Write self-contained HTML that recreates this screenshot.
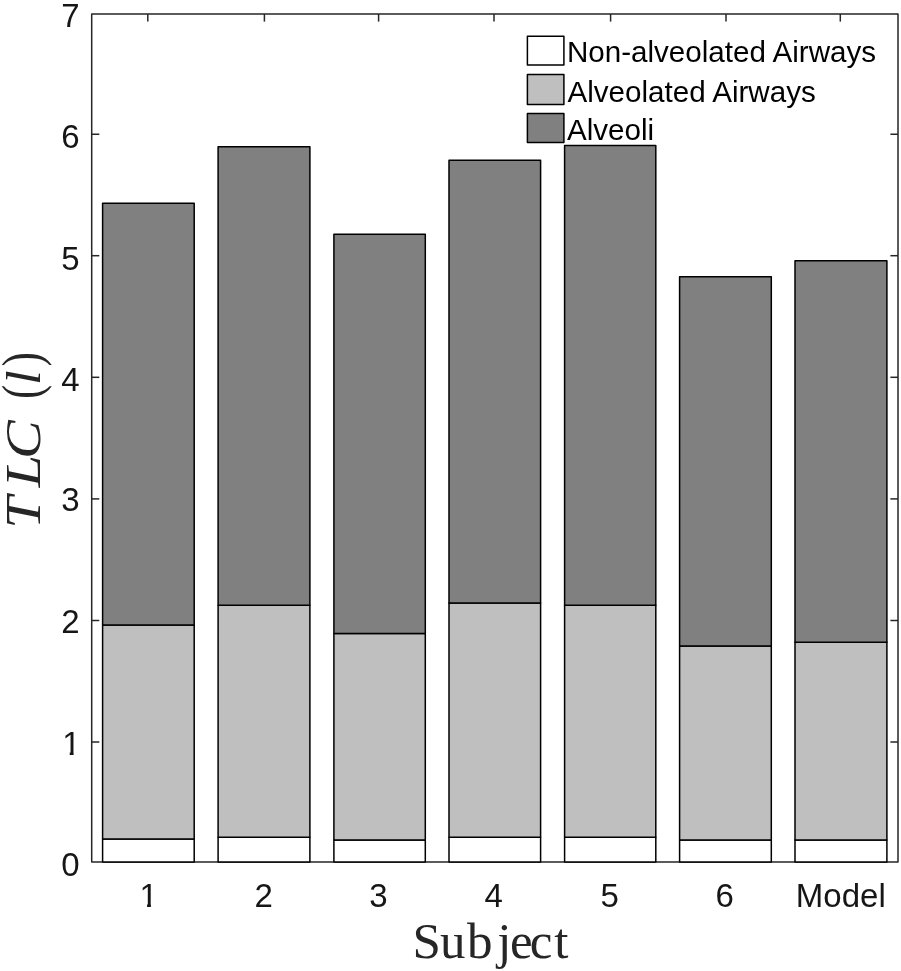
<!DOCTYPE html>
<html lang="en"><head><meta charset="utf-8"><title>TLC by Subject</title>
<style>html,body{margin:0;padding:0;background:#fff}body{width:901px;height:971px;overflow:hidden}svg{display:block}.t{font-family:"Liberation Sans",Arial,sans-serif;fill:#161616}.s{font-family:"Liberation Serif","Times New Roman",serif;fill:#262626}</style></head><body>
<svg xmlns="http://www.w3.org/2000/svg" width="901" height="971" viewBox="0 0 901 971">
<rect width="901" height="971" fill="#fff"/>
<g stroke="#262626" stroke-width="1.5" fill="none" stroke-linecap="butt">
<rect x="91.7" y="14.0" width="806.3" height="848.0" stroke-linejoin="round"/>
<line x1="147.8" y1="14.0" x2="147.8" y2="21.6"/>
<line x1="264.4" y1="14.0" x2="264.4" y2="21.6"/>
<line x1="378.6" y1="14.0" x2="378.6" y2="21.6"/>
<line x1="494.0" y1="14.0" x2="494.0" y2="21.6"/>
<line x1="610.6" y1="14.0" x2="610.6" y2="21.6"/>
<line x1="726.0" y1="14.0" x2="726.0" y2="21.6"/>
<line x1="840.3" y1="14.0" x2="840.3" y2="21.6"/>
<line x1="91.7" y1="742.0" x2="99.3" y2="742.0"/>
<line x1="898.0" y1="742.0" x2="890.4" y2="742.0"/>
<line x1="91.7" y1="620.5" x2="99.3" y2="620.5"/>
<line x1="898.0" y1="620.5" x2="890.4" y2="620.5"/>
<line x1="91.7" y1="498.9" x2="99.3" y2="498.9"/>
<line x1="898.0" y1="498.9" x2="890.4" y2="498.9"/>
<line x1="91.7" y1="377.3" x2="99.3" y2="377.3"/>
<line x1="898.0" y1="377.3" x2="890.4" y2="377.3"/>
<line x1="91.7" y1="255.7" x2="99.3" y2="255.7"/>
<line x1="898.0" y1="255.7" x2="890.4" y2="255.7"/>
<line x1="91.7" y1="134.25" x2="99.3" y2="134.25"/>
<line x1="898.0" y1="134.25" x2="890.4" y2="134.25"/>
</g>
<g stroke="#000" stroke-width="1.5" stroke-linejoin="round">
<rect x="102.6" y="839.0" width="91.6" height="23.0" fill="#fff"/>
<rect x="102.6" y="625.0" width="91.6" height="214.0" fill="#bfbfbf"/>
<rect x="102.6" y="203.2" width="91.6" height="421.8" fill="#808080"/>
<rect x="218.1" y="837.3" width="91.8" height="24.7" fill="#fff"/>
<rect x="218.1" y="605.3" width="91.8" height="232.0" fill="#bfbfbf"/>
<rect x="218.1" y="146.8" width="91.8" height="458.5" fill="#808080"/>
<rect x="333.9" y="839.9" width="91.4" height="22.1" fill="#fff"/>
<rect x="333.9" y="633.6" width="91.4" height="206.3" fill="#bfbfbf"/>
<rect x="333.9" y="234.2" width="91.4" height="399.4" fill="#808080"/>
<rect x="449.0" y="837.3" width="91.6" height="24.7" fill="#fff"/>
<rect x="449.0" y="603.0" width="91.6" height="234.3" fill="#bfbfbf"/>
<rect x="449.0" y="160.2" width="91.6" height="442.8" fill="#808080"/>
<rect x="564.6" y="837.3" width="91.2" height="24.7" fill="#fff"/>
<rect x="564.6" y="605.3" width="91.2" height="232.0" fill="#bfbfbf"/>
<rect x="564.6" y="145.6" width="91.2" height="459.7" fill="#808080"/>
<rect x="679.6" y="840.0" width="91.7" height="22.0" fill="#fff"/>
<rect x="679.6" y="645.9" width="91.7" height="194.1" fill="#bfbfbf"/>
<rect x="679.6" y="276.8" width="91.7" height="369.1" fill="#808080"/>
<rect x="795.0" y="840.0" width="91.9" height="22.0" fill="#fff"/>
<rect x="795.0" y="642.3" width="91.9" height="197.7" fill="#bfbfbf"/>
<rect x="795.0" y="260.8" width="91.9" height="381.5" fill="#808080"/>
</g>
<g class="t" font-size="33" text-anchor="middle">
<text x="263.7" y="906.6">2</text>
<text x="378.4" y="906.6">3</text>
<text x="493.7" y="906.6">4</text>
<text x="609.6" y="906.6">5</text>
<text x="724.8" y="906.6">6</text>
<text x="840.8" y="906.6">Model</text>
</g>
<text class="t" font-size="33" x="139.50" y="906.5">1</text>
<rect x="140.00" y="903.40" width="7.04" height="4.2" fill="#fff"/>
<rect x="150.91" y="903.40" width="7" height="4.2" fill="#fff"/>
<g class="t" font-size="33" text-anchor="end">
<text x="79.7" y="876.2">0</text>
<text x="79.7" y="632.8">2</text>
<text x="79.7" y="511.3">3</text>
<text x="79.7" y="390.9">4</text>
<text x="79.7" y="270.4">5</text>
<text x="79.7" y="148.0">6</text>
<text x="79.7" y="27.4">7</text>
</g>
<text class="t" font-size="33" x="62.20" y="755.0">1</text>
<rect x="62.70" y="751.90" width="7.04" height="4.2" fill="#fff"/>
<rect x="73.61" y="751.90" width="7" height="4.2" fill="#fff"/>
<g class="legend-gap">
</g>
<g stroke="#000" stroke-width="1.5" stroke-linejoin="round">
<rect x="527.4" y="36.3" width="36.5" height="28.8" fill="#fff"/>
<rect x="527.4" y="74.6" width="36.5" height="29.9" fill="#bfbfbf"/>
<rect x="527.4" y="113.4" width="36.5" height="29.1" fill="#808080"/>
</g>
<g class="t" font-size="29.6" fill="#000">
<text x="566.9" y="62.0" style="fill:#000">Non-alveolated Airways</text>
<text x="567.4" y="101.8" style="fill:#000">Alveolated Airways</text>
<text x="567.0" y="139.6" style="fill:#000">Alveoli</text>
</g>
<text class="s" x="412.5 439.9 466.9 497.2 509.9 529.8 554.3" y="957.7" font-size="51">Subject</text>
<g class="s" transform="translate(39.5,525.5) rotate(-90)">
<text transform="translate(-3.2,0) scale(1.13,1)" font-size="51.5" font-style="italic">T<tspan dx="8">L</tspan><tspan dx="-3.5">C</tspan></text>
<text transform="translate(126.6,0) scale(0.79,1)" font-size="54">(</text>
<text transform="translate(140.4,0) scale(1.08,1)" font-size="49" font-style="italic">l</text>
<text transform="translate(158.9,0) scale(0.8,1)" font-size="54">)</text>
</g>
</svg></body></html>
